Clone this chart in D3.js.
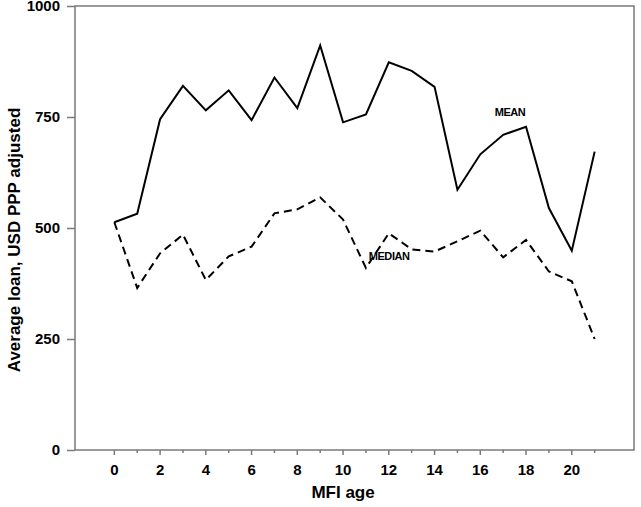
<!DOCTYPE html>
<html>
<head>
<meta charset="utf-8">
<script src="https://cdn.jsdelivr.net/npm/d3@7"></script>
<style>
  body { margin: 0; background: #fff; }
  svg { display: block; }
  text { font-family: "Liberation Sans", Arial, sans-serif; fill: #000; }
</style>
</head>
<body>
<svg id="chart" width="641" height="507"></svg>
<script>
// MFI age (years)
const ages = [0, 1, 2, 3, 4, 5, 6, 7, 8, 9, 10, 11, 12, 13, 14, 15, 16, 17, 18, 19, 20, 21];
// average loan, USD PPP adjusted
const meanLoan = [513, 532, 745, 820, 765, 810, 743, 839, 770, 911, 738, 756, 873, 854, 818, 586, 666, 710, 728, 545, 449, 672];
const medianLoan = [513, 365, 443, 485, 383, 436, 458, 533, 542, 569, 519, 410, 488, 452, 447, 470, 494, 434, 473, 402, 380, 250];
const yTicks = [0, 250, 500, 750, 1000];
const xLabelTicks = [0, 2, 4, 6, 8, 10, 12, 14, 16, 18, 20];

const svg = d3.select('#chart');
const margin = { left: 75, top: 6, right: 7, bottom: 57 };
const width = 641, height = 507;

// x domain padded so the frame runs a bit past both ends of the data
const x = d3.scaleLinear().domain([-1.72, 22.72]).range([margin.left, width - margin.right]);
const y = d3.scaleLinear().domain([0, 1000]).range([height - margin.bottom, margin.top]);

const axisColor = '#7a7a7a';

// frame around the plot
svg.append('rect')
    .attr('x', x.range()[0])
    .attr('y', y(1000))
    .attr('width', x.range()[1] - x.range()[0])
    .attr('height', y(0) - y(1000))
    .attr('fill', 'none')
    .attr('stroke', axisColor)
    .attr('stroke-width', 1.5);

// y axis: ticks pointing outwards, labels right-aligned
const yAxis = svg.append('g')
    .attr('transform', `translate(${margin.left},0)`)
    .call(d3.axisLeft(y).tickValues(yTicks).tickFormat(d3.format('d')).tickSize(8).tickPadding(7));
yAxis.select('.domain').remove();
yAxis.selectAll('line').attr('stroke', axisColor).attr('stroke-width', 1.5);
yAxis.selectAll('text')
    .attr('fill', '#000')
    .style('font-family', '"Liberation Sans", Arial, sans-serif')
    .style('font-size', '15px')
    .style('font-weight', 'bold');

// x axis: a short tick at every year, longer under the labelled even years
const xAxis = svg.append('g')
    .attr('transform', `translate(0,${y(0)})`);
xAxis.selectAll('line')
    .data(ages)
    .join('line')
    .attr('x1', d => x(d))
    .attr('x2', d => x(d))
    .attr('y1', 0)
    .attr('y2', d => d % 2 === 0 ? 5 : 3)
    .attr('stroke', axisColor)
    .attr('stroke-width', 1.5);
xAxis.selectAll('text')
    .data(xLabelTicks)
    .join('text')
    .attr('x', d => x(d))
    .attr('y', 25)
    .attr('text-anchor', 'middle')
    .style('font-size', '15px')
    .style('font-weight', 'bold')
    .text(d => d);

// axis titles
svg.append('text')
    .attr('x', x(10))
    .attr('y', 498)
    .attr('text-anchor', 'middle')
    .style('font-size', '17px')
    .style('font-weight', 'bold')
    .text('MFI age');

svg.append('text')
    .attr('transform', `translate(20,${240}) rotate(-90)`)
    .attr('text-anchor', 'middle')
    .style('font-size', '17px')
    .style('font-weight', 'bold')
    .text('Average loan, USD PPP adjusted');

// the two series
const line = d3.line().x((d, i) => x(ages[i])).y(d => y(d));

svg.append('path')
    .datum(medianLoan)
    .attr('d', line)
    .attr('fill', 'none')
    .attr('stroke', '#000')
    .attr('stroke-width', 2)
    .attr('stroke-dasharray', '8,5');

svg.append('path')
    .datum(meanLoan)
    .attr('d', line)
    .attr('fill', 'none')
    .attr('stroke', '#000')
    .attr('stroke-width', 2)
    .attr('stroke-linejoin', 'miter');

// inline labels
svg.append('text')
    .attr('x', x(17.3))
    .attr('y', y(752))
    .attr('text-anchor', 'middle')
    .style('font-size', '11px')
    .style('font-weight', 'bold')
    .style('letter-spacing', '-0.4px')
    .text('MEAN');

svg.append('text')
    .attr('x', x(11.12))
    .attr('y', y(427))
    .style('font-size', '11px')
    .style('font-weight', 'bold')
    .style('letter-spacing', '-0.4px')
    .text('MEDIAN');
</script>
</body>
</html>
